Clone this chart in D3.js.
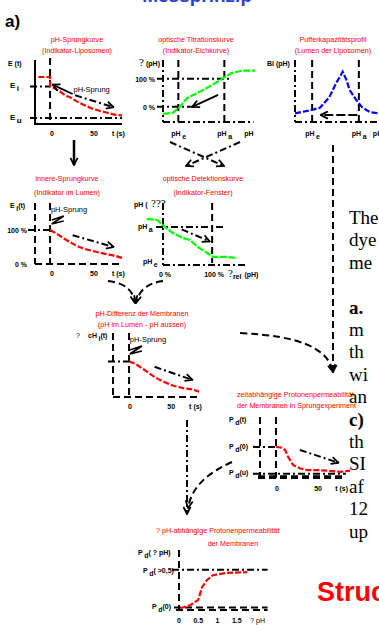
<!DOCTYPE html>
<html>
<head>
<meta charset="utf-8">
<script src="https://cdn.jsdelivr.net/npm/d3@7"></script>
<style>
  body { margin: 0; background: #fff; overflow: hidden; }
  svg { display: block; font-family: "Liberation Sans", Arial, sans-serif; }
</style>
</head>
<body>
<svg id="chart" width="379" height="625"></svg>
<script>
// ---- data ----
// pH-Sprungkurve: t (s), E (arb.)
const sprungCurve = [[-14,73],[0,73],[0,58],[4,56],[8,53],[12,50],[16,46],[20,43],[25,40],[30,36],[35,32],[40,29],[45,26],[50,23],[55,21],[60,19],[66,17],[72,15],[78,13],[86,12]];
// optische Titrationskurve: pH (pH_e = 5, pH_a = 8), signal %
const titrationCurve = [[4,-25],[4.65,-21],[5.1,0],[5.55,30],[6.4,54],[7.25,79],[8.05,107],[8.5,121],[9.15,129],[10,129]];
// Pufferkapazitätsprofil: pH, Bi
const bufferCurve = [[3.9,14],[4.9,19],[5.5,23],[6.1,40],[6.55,63],[6.85,76],[6.96,81],[7.2,68],[7.4,52],[7.85,35],[8.2,24],[8.7,16],[9.3,14]];
// innere-Sprungkurve: t (s), E_i %
const innerCurve = [[0,100],[5,94],[10,86],[15,78],[20,70],[25,63],[30,56],[35,50],[40,46],[45,42],[50,39],[55,36],[60,33],[66,30],[72,27],[78,24],[86,18]];
// optische Detektionskurve: signal %, pH
const detectionCurve = [[-33,8.67],[-12,8.58],[4,8.0],[20,7.5],[41,7.08],[55,6.92],[71,6.33],[90,5.83],[102,5.5],[131,5.5],[151,5.42]];
// pH-Differenz der Membranen: t (s), cH_i
const diffCurve = [[0,100],[5,96],[10,90],[15,82],[20,74],[25,66],[30,58],[35,51],[40,45],[45,40],[50,35],[55,31],[60,28],[66,25],[72,23],[78,21],[85,15]];
// zeitabhängige Protonenpermeabilität: t (s), P_d
const permTimeCurve = [[0,51],[6,50],[11,46],[15,34],[21,21],[29,16],[38,13],[50,13],[63,12],[78,10],[90,12]];
// pH-abhängige Protonenpermeabilität: ΔpH, P_d
const permPhCurve = [[0.03,3],[0.29,8],[0.5,17],[0.6,38],[0.73,50],[0.88,58],[1.25,62],[1.77,63]];

const tTicks = [0, 50];
const phTicks = [0, 0.5, 1, 1.5];
const pctTicks = [0, 100];

const titles = [
  ["pH-Sprungkurve", "(Indikator-Liposomen)"],
  ["optische Titrationskurve", "(Indikator-Eichkurve)"],
  ["Pufferkapazitätsprofil", "(Lumen der Liposomen)"],
  ["innere-Sprungkurve", "(Indikator im Lumen)"],
  ["optische Detektionskurve", "(Indikator-Fenster)"],
  ["pH-Differenz der Membranen", "(pH im Lumen - pH aussen)"],
  ["zeitabhängige Protonenpermeabilität", "der Membranen in Sprungexperiment"],
  ["?  pH-abhängige Protonenpermeabilität", "der Membranen"]
];

// body text cut off by the right page edge (visible fragments only)
const sideLines = ["The", "dye", "me", "", "a.", "m", "th", "wi", "an", "c)", "th", "SI", "af", "12", "up"];

// ---- drawing ----
const svg = d3.select("#chart");
const RED = "#ff0000", GREEN = "#00ff00", BLUE = "#0000ff";
const DASH = "7,4", DASHDOT = "7,3,2,3";
const TSIZE = 7.2;

svg.append("defs").append("marker")
  .attr("id", "chev")
  .attr("viewBox", "0 0 10 10")
  .attr("refX", 9).attr("refY", 5)
  .attr("markerWidth", 9).attr("markerHeight", 9)
  .attr("markerUnits", "userSpaceOnUse")
  .attr("orient", "auto")
  .append("path")
  .attr("d", "M1,1 L9,5 L1,9")
  .attr("fill", "none").attr("stroke", "#000").attr("stroke-width", 2);

function seg(x1, y1, x2, y2, dash, w = 2, arrow = false) {
  const l = svg.append("line")
    .attr("x1", x1).attr("y1", y1).attr("x2", x2).attr("y2", y2)
    .attr("stroke", "#000").attr("stroke-width", w)
    .attr("stroke-dasharray", dash || null);
  if (arrow) l.attr("marker-end", "url(#chev)");
  return l;
}

function curvePath(d, dash) {
  return svg.append("path").attr("d", d).attr("fill", "none")
    .attr("stroke", "#000").attr("stroke-width", 2)
    .attr("stroke-dasharray", dash || null)
    .attr("marker-end", "url(#chev)");
}

function plot(data, sc, color, dash) {
  svg.append("path")
    .datum(data)
    .attr("d", d3.line().x(d => sc.x(d[0])).y(d => sc.y(d[1])))
    .attr("fill", "none").attr("stroke", color).attr("stroke-width", 2.2)
    .attr("stroke-dasharray", dash);
}

function txt(x, y, s, opts = {}) {
  return svg.append("text").attr("x", x).attr("y", y)
    .attr("font-size", opts.size || 7)
    .attr("font-weight", opts.weight || "bold")
    .attr("text-anchor", opts.anchor || "start")
    .attr("fill", opts.color || "#000")
    .attr("font-family", opts.family || null)
    .text(s);
}

// label with subscript: main, sub, rest
function sublab(x, y, main, sub, rest = "", opts = {}) {
  const t = svg.append("text").attr("x", x).attr("y", y)
    .attr("font-size", opts.size || 7).attr("font-weight", "bold")
    .attr("text-anchor", opts.anchor || "start");
  t.append("tspan").text(main);
  t.append("tspan").attr("dx", 1.5).attr("dy", 3).text(sub);
  if (rest) t.append("tspan").attr("dy", -3).text(rest);
  return t;
}

function title(i, x, y, anchor = "middle", gap = 11) {
  titles[i].forEach((s, k) => {
    txt(x, y + k * gap, s, { color: RED, weight: "normal", size: TSIZE, anchor: anchor });
  });
}

function zig(x, y) {
  svg.append("path")
    .attr("d", `M${x},${y} L${x + 12},${y - 4} L${x},${y + 4} L${x + 12},${y + 1}`)
    .attr("fill", "none").attr("stroke", "#000").attr("stroke-width", 1.8);
}

// partial blue heading cut at the top
txt(252, 1.5, "Messprinzip", { color: "#2f3fd0", size: 19, anchor: "end" });
txt(5, 27, "a)", { size: 17 });

// ---------- panel 1: pH-Sprungkurve ----------
const p1 = { x: d3.scaleLinear().domain([-18, 86]).range([35, 122]), y: d3.scaleLinear().domain([0, 100]).range([123, 60]) };
title(0, 77, 42);
seg(p1.x(-18), 60, p1.x(-18), 125, null, 2);
seg(p1.x(-18), 124, p1.x(86), 124, null, 2);
seg(p1.x(0), 58, p1.x(0), 125, DASH);
seg(30, p1.y(58), p1.x(0), p1.y(58), DASHDOT);
seg(30, p1.y(8), p1.x(86), p1.y(8), DASHDOT);
plot(sprungCurve, p1, RED, "6,2");
seg(p1.x(27), p1.y(46), p1.x(3), p1.y(61), null, 1.8, true);
txt(p1.x(28), p1.y(50), "pH-Sprung", { weight: "normal", size: 7.5 });
seg(p1.x(30), p1.y(44), p1.x(76), p1.y(25), DASHDOT, 2, true);
txt(8, 66, "E (t)");
sublab(10, p1.y(58) + 2, "E", "i", "", { size: 8 });
sublab(10, p1.y(8) + 2, "E", "u", "", { size: 8 });
tTicks.forEach(t => txt(p1.x(t) + 2, 136, String(t), { anchor: "middle" }));
txt(p1.x(74), 136, "t (s)");

// ---------- panel 2: optische Titrationskurve ----------
const p2 = { x: d3.scaleLinear().domain([4, 10]).range([163, 255]), y: d3.scaleLinear().domain([-54, 167]).range([122, 60]) };
title(1, 196, 42);
seg(p2.x(4), 60, p2.x(4), 122, DASHDOT);
seg(p2.x(4), 122, p2.x(9.9), 122, DASHDOT);
seg(p2.x(5), 60, p2.x(5), 122, DASH);
seg(p2.x(8), 60, p2.x(8), 122, DASH);
seg(157, p2.y(100), p2.x(8.3), p2.y(100), DASHDOT);
seg(157, p2.y(0), p2.x(6.1), p2.y(0), DASHDOT);
plot(titrationCurve, p2, GREEN, "7,1.5");
seg(p2.x(7.6), p2.y(43), p2.x(5.9), p2.y(0), null, 2, true);
txt(139, 66, "?", { family: "Liberation Serif", weight: "normal", size: 11 });
txt(146, 66, "(pH)");
pctTicks.forEach(v => txt(155, p2.y(v) + 3, v + " %", { anchor: "end" }));
sublab(p2.x(5) - 7, 136, "pH", "e");
sublab(p2.x(8) - 7, 136, "pH", "a");
txt(p2.x(9.3), 136, "pH");

// ---------- panel 3: Pufferkapazitätsprofil ----------
const p3 = { x: d3.scaleLinear().domain([3.9, 10]).range([295, 390]), y: d3.scaleLinear().domain([0, 100]).range([122, 60]) };
title(2, 333, 42);
seg(p3.x(3.9), 60, p3.x(3.9), 122, DASHDOT);
seg(p3.x(3.9), 122, 379, 122, DASHDOT);
seg(p3.x(5), 60, p3.x(5), 122, DASH);
seg(p3.x(8), 60, p3.x(8), 122, DASH);
plot(bufferCurve, p3, BLUE, "6,2");
seg(p3.x(7.9), 115, p3.x(5.55), 115, "9,3", 2, true);
txt(267, 66, "Bi (pH)");
sublab(p3.x(5) - 7, 136, "pH", "e");
sublab(p3.x(8) - 7, 136, "pH", "a");
txt(p3.x(8.9), 136, "pH");

// arrows between first and second row
seg(74, 140, 74, 165, null, 2.5, true);
seg(170, 142, 224, 166, DASHDOT, 2, true);
seg(240, 142, 186, 166, DASHDOT, 2, true);

// ---------- panel 4: innere-Sprungkurve ----------
const p4 = { x: d3.scaleLinear().domain([-18, 86]).range([35, 122]), y: d3.scaleLinear().domain([0, 180]).range([264, 203]) };
title(3, 67, 181, "middle", 14);
seg(p4.x(-18), 203, p4.x(-18), 264, DASH);
seg(p4.x(-18), 264, p4.x(86), 264, DASH);
seg(p4.x(0), 203, p4.x(0), 264, DASH);
seg(28, p4.y(100), p4.x(0), p4.y(100), DASHDOT);
plot(innerCurve, p4, RED, "6,2");
seg(p4.x(27), p4.y(85), p4.x(76), p4.y(50), DASHDOT, 2, true);
txt(p4.x(1), 212, "pH-Sprung", { weight: "normal", size: 7.5 });
zig(p4.x(2), 220);
sublab(10, 208, "E", "i", "(t)");
pctTicks.forEach(v => txt(27, p4.y(v) + 3, v + " %", { anchor: "end" }));
tTicks.forEach(t => txt(p4.x(t) + 2, 276, String(t), { anchor: "middle" }));
txt(p4.x(74), 276, "t (s)");

// ---------- panel 5: optische Detektionskurve ----------
const p5 = { x: d3.scaleLinear().domain([0, 175]).range([163, 249]), y: d3.scaleLinear().domain([4.83, 10]).range([265, 203]) };
title(4, 203, 181, "middle", 14);
seg(p5.x(0), 203, p5.x(0), 265, DASHDOT);
seg(p5.x(0), 265, p5.x(170), 265, DASHDOT);
seg(p5.x(100), 203, p5.x(100), 263, DASH);
seg(156, p5.y(8), p5.x(126), p5.y(8), DASHDOT);
plot(detectionCurve, p5, GREEN, "7,1.5");
seg(p5.x(38), p5.y(7.8), p5.x(95), p5.y(6.8), DASHDOT, 2, true);
txt(134, 207, "pH (");
txt(151, 207, "???", { family: "Liberation Serif", weight: "normal", size: 11 });
sublab(138, p5.y(8) + 2, "pH", "a");
sublab(143, p5.y(5) + 1, "pH", "e");
pctTicks.forEach(v => txt(p5.x(v) + 2, 277, v + " %", { anchor: "middle" }));
const rl = svg.append("text").attr("x", 228).attr("y", 277).attr("font-size", 7).attr("font-weight", "bold");
rl.append("tspan").attr("font-family", "Liberation Serif").attr("font-weight", "normal").attr("font-size", 11).text("?");
rl.append("tspan").attr("dy", 2).text("rel");
rl.append("tspan").attr("dy", -2).attr("dx", 3).text("(pH)");

// curved arrows into panel 6
curvePath("M108,281 C125,283 133,290 135,303", DASH);
curvePath("M163,281 C148,283 139,290 136,303", DASH);

// ---------- panel 6: pH-Differenz ----------
const p6 = { x: d3.scaleLinear().domain([-19.5, 85]).range([113, 199]), y: d3.scaleLinear().domain([0, 180]).range([397, 333]) };
title(5, 142, 316, "middle", 11);
seg(p6.x(-19.5), 333, p6.x(-19.5), 397, DASH);
seg(p6.x(-19.5), 397, p6.x(85), 397, DASH);
seg(p6.x(0), 333, p6.x(0), 397, DASH);
seg(108, p6.y(100), p6.x(0), p6.y(100), DASHDOT);
plot(diffCurve, p6, RED, "6,2");
seg(p6.x(31), p6.y(85), p6.x(77), p6.y(48), DASHDOT, 2, true);
txt(p6.x(1), 342, "pH-Sprung", { weight: "normal", size: 7.5 });
zig(p6.x(1), 350);
txt(76, 338, "?", { weight: "normal", size: 7 });
sublab(88, 338, "cH", "i", "(t)");
tTicks.forEach(t => txt(p6.x(t) + 1, 409, String(t), { anchor: "middle" }));
txt(p6.x(73), 409, "t (s)");

// long dashed arrow from the buffer profile, curved one from panel 6
seg(333, 145, 333, 372, DASH, 2, true);
curvePath("M240,333 C300,336 328,348 333,372", DASH);

// ---------- panel 7: zeitabhängige Protonenpermeabilität ----------
const p7 = { x: d3.scaleLinear().domain([-19.5, 90]).range([260, 350]), y: d3.scaleLinear().domain([0, 100]).range([478, 417]) };
title(6, 237, 397, "start", 11);
seg(p7.x(-19.5), 417, p7.x(-19.5), 478, DASH);
seg(p7.x(0), 417, p7.x(0), 478, DASH);
seg(253, p7.y(51), p7.x(0), p7.y(51), DASHDOT);
seg(253, p7.y(7), p7.x(85), p7.y(7), DASHDOT);
seg(258, p7.y(3), p7.x(85), p7.y(3), DASH);
seg(258, p7.y(0), p7.x(85), p7.y(0), DASH);
plot(permTimeCurve, p7, RED, "6,2");
seg(p7.x(29), p7.y(46), p7.x(76), p7.y(25), DASHDOT, 2, true);
sublab(229, 422, "P", "d", "(t)");
sublab(229, p7.y(51) + 2, "P", "d", "(0)");
sublab(229, p7.y(7) + 1, "P", "d", "(u)");
tTicks.forEach(t => txt(p7.x(t) + 1, 491, String(t), { anchor: "middle" }));
txt(p7.x(72), 491, "t (s)");

// arrows into panel 8
seg(187, 420, 187, 514, DASHDOT, 2, true);
curvePath("M232,462 C210,472 192,485 188,508", DASH);

// ---------- panel 8: pH-abhängige Protonenpermeabilität ----------
const p8 = { x: d3.scaleLinear().domain([0, 2]).range([179, 256]), y: d3.scaleLinear().domain([0, 100]).range([610, 550]) };
txt(156, 533, titles[7][0], { color: RED, weight: "normal", size: TSIZE });
txt(233, 546, titles[7][1], { color: RED, weight: "normal", size: TSIZE, anchor: "middle" });
seg(p8.x(0), 550, p8.x(0), 610, DASH);
seg(172, p8.y(67), p8.x(2.3), p8.y(67), DASHDOT);
seg(174, p8.y(4), p8.x(2.3), p8.y(4), DASH);
seg(176, p8.y(0), p8.x(2.3), p8.y(0), DASH);
plot(permPhCurve, p8, RED, "6,2");
sublab(138, 555, "P", "d", "( ? pH)");
sublab(143, p8.y(67) + 3, "P", "d", "( >0,5)");
sublab(152, p8.y(4) + 1, "P", "d", "(0)");
phTicks.forEach(v => txt(p8.x(v), 623, String(v), { anchor: "middle" }));
txt(p8.x(1.85), 623, "?  pH", { weight: "normal" });

// ---------- side text (cut at the page edge) ----------
sideLines.forEach((s, i) => {
  if (!s) return;
  const bold = s === "a." || s === "c)";
  txt(349, 224 + i * 22.4, s, { family: "Liberation Serif", weight: bold ? "bold" : "normal", size: 19 });
});
txt(317, 601, "Struc", { color: RED, size: 27 });
</script>
</body>
</html>
